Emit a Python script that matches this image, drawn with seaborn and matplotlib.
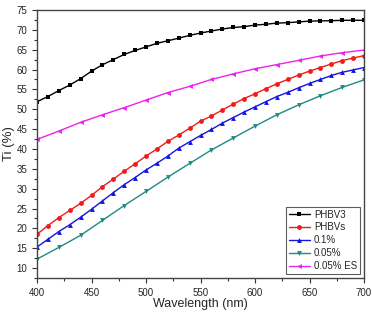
import numpy as np
import pandas as pd
import seaborn as sns
import matplotlib.pyplot as plt
from matplotlib.ticker import MultipleLocator

# wavelengths (nm)
wl_10 = list(range(400, 701, 10))
wl_20 = list(range(400, 701, 20))

phbv3 = [51.9, 53.2, 54.7, 56.1, 57.7, 59.6, 61.2, 62.5, 63.8, 64.8, 65.7,
         66.6, 67.25, 67.9, 68.6, 69.2, 69.7, 70.2, 70.6, 70.8, 71.2,
         71.4, 71.7, 71.8, 72.0, 72.2, 72.25, 72.3, 72.4, 72.4, 72.4]
phbvs = [18.5, 20.7, 22.7, 24.5, 26.3, 28.3, 30.5, 32.4, 34.4, 36.25, 38.2,
         40.0, 41.9, 43.5, 45.2, 47.0, 48.3, 49.8, 51.3, 52.7, 53.9,
         55.2, 56.4, 57.5, 58.6, 59.6, 60.5, 61.4, 62.25, 62.9, 63.5]
pct01 = [15.3, 17.25, 19.2, 20.9, 22.8, 24.8, 26.9, 29.0, 31.0, 32.8, 34.7,
         36.4, 38.2, 40.2, 41.8, 43.4, 44.9, 46.5, 47.9, 49.3, 50.6,
         51.9, 53.2, 54.25, 55.4, 56.5, 57.5, 58.5, 59.3, 59.9, 60.5]
pct005 = [12.25, 15.2, 18.25, 22.0, 25.75, 29.3, 32.9, 36.35, 39.75, 42.75,
          45.75, 48.6, 51.1, 53.4, 55.5, 57.4]
pct005_es = [42.4, 44.5, 46.7, 48.6, 50.4, 52.3, 54.2, 55.75, 57.5, 58.9,
             60.2, 61.25, 62.3, 63.4, 64.25, 64.9]

series = [
    ("PHBV3", wl_10, phbv3, "black", "s"),
    ("PHBVs", wl_10, phbvs, "#ee1c1c", "o"),
    ("0.1%", wl_10, pct01, "#1414e0", "^"),
    ("0.05%", wl_20, pct005, "#1f8a84", "v"),
    ("0.05% ES", wl_20, pct005_es, "#ee22ee", "<"),
]

sns.set_style("ticks")
plt.rcParams['font.family'] = ['Liberation Sans', 'DejaVu Sans']

fig = plt.figure(figsize=(3.72, 3.12), dpi=100)
ax = fig.add_axes([0.0995, 0.109, 0.879, 0.859])

for name, x, y, color, marker in series:
    df = pd.DataFrame({'Wavelength': x, 'Ti': y})
    sns.lineplot(data=df, x='Wavelength', y='Ti', ax=ax, color=color,
                 marker=marker, markersize=3.5, markeredgewidth=0,
                 linewidth=1, label=name)

ax.set_xlim(400, 700)
ax.set_ylim(7.5, 75)
ax.xaxis.set_major_locator(MultipleLocator(50))
ax.xaxis.set_minor_locator(MultipleLocator(25))
ax.yaxis.set_major_locator(MultipleLocator(5))
ax.yaxis.set_minor_locator(MultipleLocator(2.5))
ax.tick_params(which='both', direction='out', labelsize=7, width=0.8,
               color='#333333', top=False, right=False)
ax.tick_params(which='major', length=3.5)
ax.tick_params(which='minor', length=2)
for s in ax.spines.values():
    s.set_linewidth(1)
    s.set_color('#444444')
    s.set_visible(True)

ax.set_xlabel('Wavelength (nm)', fontsize=9, labelpad=0.5)
ax.set_ylabel('Ti (%)', fontsize=9.5, labelpad=1)

leg = ax.legend(loc='lower right', fontsize=7, frameon=True, fancybox=False,
                handlelength=2.2, handletextpad=0.4, borderpad=0.3,
                labelspacing=0.3, borderaxespad=0.4)
leg.get_frame().set_edgecolor('#333333')
leg.get_frame().set_linewidth(0.8)

fig.savefig('out.png', dpi=100)
